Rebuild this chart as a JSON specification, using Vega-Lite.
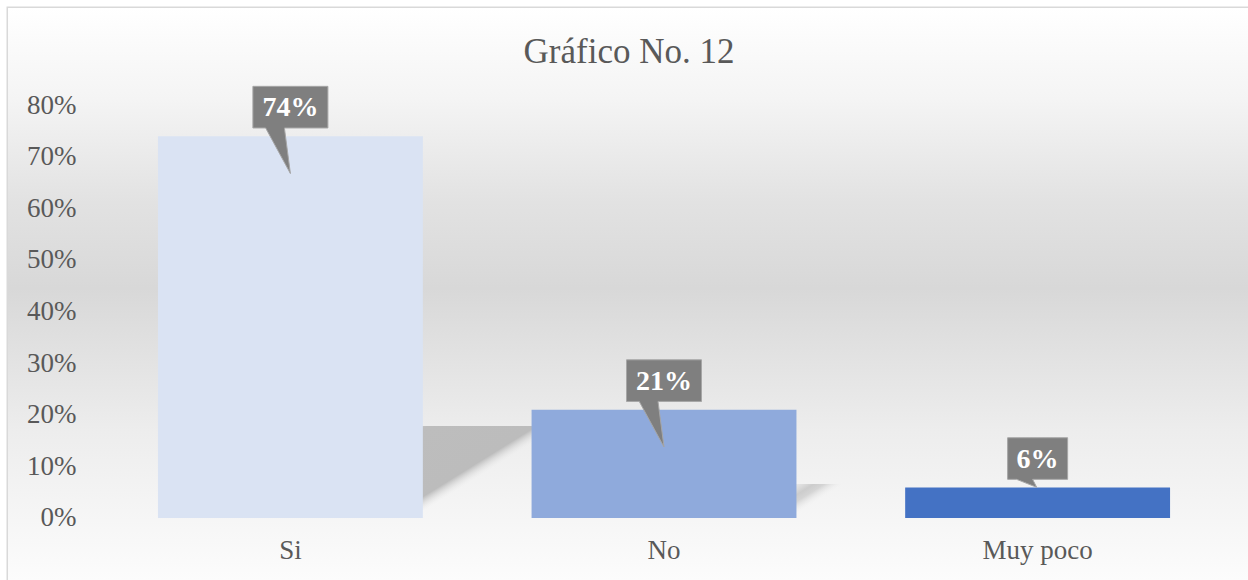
{
  "$schema": "https://vega.github.io/schema/vega-lite/v6.json",
  "width": 1240,
  "height": 572,
  "autosize": {"type": "none"},
  "padding": {"left": 8, "top": 8, "right": 0, "bottom": 0},
  "background": "#ffffff",
  "config": {"view": {"stroke": "#d9d9d9", "strokeWidth": 3}, "font": "Liberation Serif"},
  "title": {
    "text": "Gráfico No. 12",
    "font": "Liberation Serif",
    "fontSize": 35,
    "fontWeight": "normal",
    "color": "#595959",
    "anchor": "middle",
    "frame": "group",
    "dx": 1,
    "baseline": "alphabetic",
    "offset": -90
  },
  "data": {
    "values": [
      {"categoria": "Si", "valor": 0.74},
      {"categoria": "No", "valor": 0.21},
      {"categoria": "Muy poco", "valor": 0.059}
    ]
  },
  "encoding": {
    "x": {
      "field": "categoria",
      "type": "nominal",
      "sort": null,
      "scale": {"paddingInner": 0.291, "paddingOuter": 0.305, "align": 0.658},
      "axis": {
        "title": null,
        "labelAngle": 0,
        "domain": false,
        "ticks": false,
        "zindex": 2,
        "labelFontSize": 27,
        "labelColor": "#595959",
        "labelFont": "Liberation Serif",
        "labelPadding": -43
      }
    },
    "y": {
      "field": "valor",
      "type": "quantitative",
      "scale": {"domain": [-0.1202, 0.9884], "nice": false, "zero": false},
      "axis": {
        "title": null,
        "format": ".0%",
        "values": [0, 0.1, 0.2, 0.3, 0.4, 0.5, 0.6, 0.7, 0.8],
        "grid": false,
        "domain": false,
        "ticks": false,
        "zindex": 2,
        "labelFontSize": 27,
        "labelColor": "#595959",
        "labelFont": "Liberation Serif",
        "labelPadding": -68
      }
    }
  },
  "layer": [
    {
      "data": {"values": [{}]},
      "mark": {
        "type": "rect",
        "color": {
          "gradient": "linear",
          "x1": 0, "y1": 0, "x2": 0, "y2": 1,
          "stops": [
            {"offset": 0, "color": "#ffffff"},
            {"offset": 0.16, "color": "#f4f4f4"},
            {"offset": 0.34, "color": "#e2e2e2"},
            {"offset": 0.49, "color": "#d8d8d8"},
            {"offset": 0.74, "color": "#ededed"},
            {"offset": 1, "color": "#fcfcfc"}
          ]
        }
      },
      "encoding": {"x": null, "y": null}
    },
    {
      "transform": [{"filter": "datum.categoria === 'Si'"}],
      "mark": {
        "type": "point",
        "filled": true,
        "opacity": 1,
        "strokeWidth": 0,
        "size": 4,
        "shape": "M122,0 L122,-92 L270,-92 Z",
        "fill": {
          "gradient": "linear",
          "x1": 0, "y1": 0, "x2": 1, "y2": 1,
          "stops": [
            {"offset": 0, "color": "#cfcfcf"},
            {"offset": 0.05, "color": "#bdbdbd"},
            {"offset": 0.42, "color": "#bcbcbc"},
            {"offset": 0.5, "color": "rgba(235,235,235,0)"}
          ]
        }
      },
      "encoding": {"y": {"datum": 0}}
    },
    {
      "transform": [{"filter": "datum.categoria === 'No'"}],
      "mark": {
        "type": "point",
        "filled": true,
        "opacity": 1,
        "strokeWidth": 0,
        "size": 4,
        "shape": "M126,0 L126,-34 L180,-34 Z",
        "fill": {
          "gradient": "linear",
          "x1": 0, "y1": 0, "x2": 1, "y2": 1,
          "stops": [
            {"offset": 0, "color": "rgba(215,215,215,0.2)"},
            {"offset": 0.22, "color": "rgba(200,200,200,0.9)"},
            {"offset": 0.32, "color": "rgba(205,205,205,0.8)"},
            {"offset": 0.5, "color": "rgba(240,240,240,0)"}
          ]
        }
      },
      "encoding": {"y": {"datum": 0}}
    },
    {
      "mark": {"type": "bar"},
      "encoding": {
        "y2": {"datum": 0},
        "color": {
          "field": "categoria",
          "type": "nominal",
          "scale": {"domain": ["Si", "No", "Muy poco"], "range": ["#dae3f3", "#8faadc", "#4472c4"]},
          "legend": null
        }
      }
    },
    {
      "transform": [{"filter": "datum.valor > 0.1"}],
      "mark": {
        "type": "point",
        "filled": true,
        "fill": "#7f7f7f",
        "stroke": "#a6a6a6",
        "strokeWidth": 1,
        "opacity": 1,
        "size": 5625,
        "yOffset": -29,
        "shape": "M-1,-0.555 L1,-0.555 L1,0.555 L-0.16,0.555 L0,1.77 L-0.66,0.555 L-1,0.555 Z"
      }
    },
    {
      "transform": [{"filter": "datum.valor <= 0.1"}],
      "mark": {
        "type": "point",
        "filled": true,
        "fill": "#7f7f7f",
        "stroke": "#a6a6a6",
        "strokeWidth": 1,
        "opacity": 1,
        "size": 3600,
        "yOffset": -29,
        "shape": "M-1,-0.693 L1,-0.693 L1,0.693 L-0.167,0.693 L-0.03,0.96 L-0.7,0.693 L-1,0.693 Z"
      }
    },
    {
      "mark": {
        "type": "text",
        "font": "Liberation Serif",
        "fontSize": 28,
        "fontWeight": "bold",
        "color": "#ffffff",
        "baseline": "middle",
        "yOffset": -28
      },
      "encoding": {
        "text": {"field": "valor", "type": "quantitative", "format": ".0%"}
      }
    }
  ]
}
